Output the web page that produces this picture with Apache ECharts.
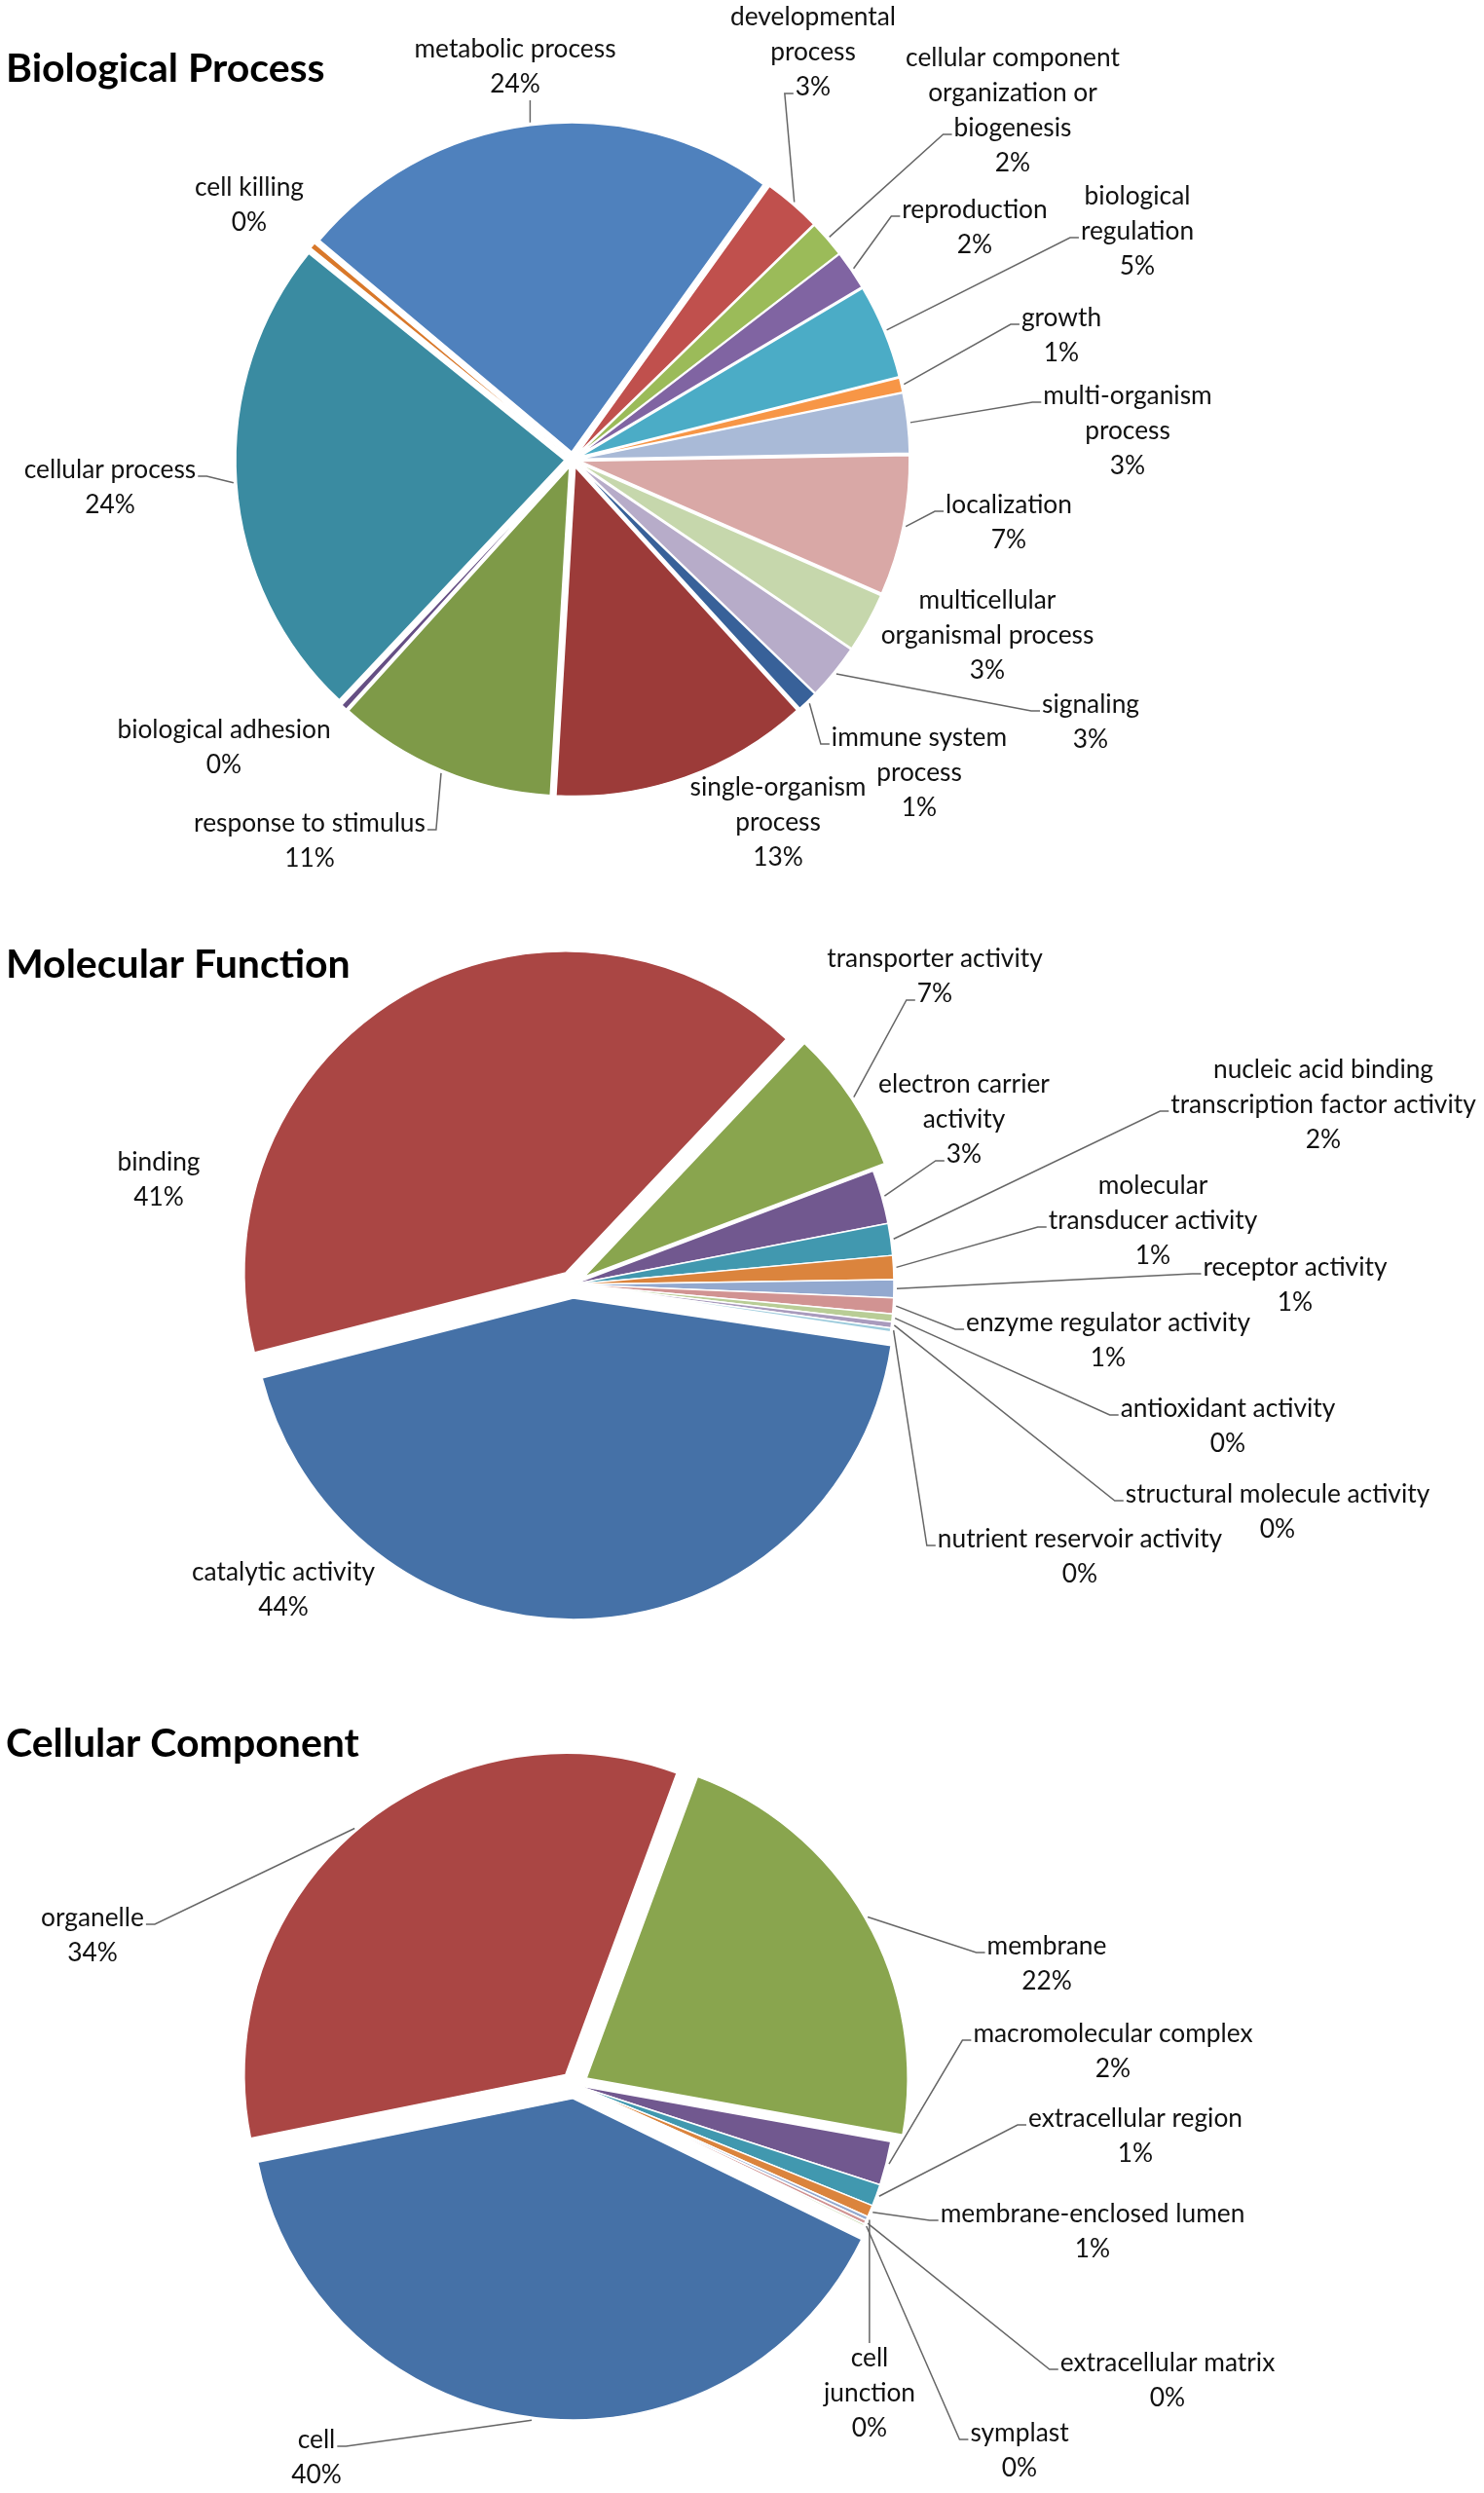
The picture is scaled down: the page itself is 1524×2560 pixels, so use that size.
<!DOCTYPE html>
<html><head><meta charset="utf-8">
<script src="https://cdn.jsdelivr.net/npm/echarts@6/dist/echarts.min.js"></script>
<style>html,body{margin:0;padding:0;background:#fff}#c{width:1524px;height:2560px}</style>
</head><body><div id="c"></div>
<script>
// ---------------- DATA ----------------
const bpCategories = ['metabolic process','developmental process','cellular component organization or biogenesis','reproduction','biological regulation','growth','multi-organism process','localization','multicellular organismal process','signaling','immune system process','single-organism process','response to stimulus','biological adhesion','cellular process','cell killing'];
const bpLabelText = ['metabolic process','developmental\nprocess','cellular component\norganization or\nbiogenesis','reproduction','biological\nregulation','growth','multi-organism\nprocess','localization','multicellular\norganismal process','signaling','immune system\nprocess','single-organism\nprocess','response to stimulus','biological adhesion','cellular process','cell killing'];
const bpValues = [23.6, 2.8, 1.8, 1.9, 4.6, 0.7, 2.9, 6.8, 2.9, 2.7, 1.0, 12.6, 10.7, 0.3, 23.6, 0.3];

const mfCategories = ['catalytic activity','binding','transporter activity','electron carrier activity','nucleic acid binding transcription factor activity','molecular transducer activity','receptor activity','enzyme regulator activity','antioxidant activity','structural molecule activity','nutrient reservoir activity'];
const mfLabelText = ['catalytic activity','binding','transporter activity','electron carrier\nactivity','nucleic acid binding\ntranscription factor activity','molecular\ntransducer activity','receptor activity','enzyme regulator activity','antioxidant activity','structural molecule activity','nutrient reservoir activity'];
const mfValues = [43.6, 41.0, 7.2, 2.7, 1.6, 1.2, 0.9, 0.8, 0.4, 0.3, 0.2];

const ccCategories = ['cell','organelle','membrane','macromolecular complex','extracellular region','membrane-enclosed lumen','cell junction','extracellular matrix','symplast'];
const ccLabelText = ['cell','organelle','membrane','macromolecular complex','extracellular region','membrane-enclosed lumen','cell\njunction','extracellular matrix','symplast'];
const ccValues = [39.6, 33.8, 22.2, 2.2, 1.1, 0.6, 0.2, 0.2, 0.1];

const titles = ['Biological Process', 'Molecular Function', 'Cellular Component'];

// ---------------- STYLE / LAYOUT ----------------
const bpColors = ['#4F81BD','#C0504D','#9BBB59','#8064A2','#4BACC6','#F79646','#A9BAD7','#D9A8A6','#C6D7AC','#B7ACC9','#386199','#9C3B39','#7E9A48','#654F84','#3A8BA1','#D9782A'];
const mfColors = ['#4571A7','#AA4644','#89A54E','#71588F','#4198AF','#DB843D','#93A9CF','#D19392','#B9CD96','#A99BBD','#9CCBDC'];
const ccColors = ['#4571A7','#AA4644','#89A54E','#71588F','#4198AF','#DB843D','#93A9CF','#D19392','#B9CD96'];

// label block centre x, centre y, leader attach side (l/r/b/t/n), attach line index
const bpLabelPos = [[529,69,'b',1],[835,54,'l',2],[1040,114,'l',2],[1001,234,'l',0],[1168,238,'l',1],[1090,345,'l',0],[1158,443,'l',0],[1036,537,'l',0],[1014,653,'n',0],[1120,742,'l',0],[944,794,'l',0],[799,845,'n',0],[318,864,'r',0],[230,768,'n',0],[113,501,'r',0],[256,211,'n',0]];
const mfLabelPos = [[291,1633,'n',0],[163,1212,'n',0],[960,1003,'l',1],[990,1150,'l',2],[1359,1135,'l',1],[1184,1254,'l',1],[1330,1320,'l',0],[1138,1377,'l',0],[1261,1465,'l',0],[1312,1553,'l',0],[1109,1599,'l',0]];
const ccLabelPos = [[325,2524,'r',0],[95,1988,'r',0],[1075,2017,'l',0],[1143,2107,'l',0],[1166,2194,'l',0],[1122,2292,'l',0],[893,2458,'t',0],[1199,2445,'l',0],[1047,2517,'l',0]];

const FONT = 'Lato';
const LABEL_SIZE = 26.3, LINE_H = 36;
const ctx = document.createElement('canvas').getContext('2d');
function textW(s) { ctx.font = LABEL_SIZE + 'px ' + FONT; return ctx.measureText(s).width; }

function makeLayout(pos, o) {
  return function (p) {
    const c = pos[p.dataIndex];
    const out = { x: c[0], y: c[1], align: 'center', verticalAlign: 'middle' };
    const pts = p.labelLinePoints;
    if (!pts || c[2] === 'n') return out;
    const lines = p.text.split('\n');
    const h = lines.length * LINE_H;
    const top = c[1] - h / 2;
    // push the leader start out to the exploded slice edge
    const vx = pts[0][0] - o.center[0], vy = pts[0][1] - o.center[1];
    const len = Math.sqrt(vx * vx + vy * vy) || 1;
    const extra = o.explode(p.dataIndex) ? o.offset : 0;
    const p0 = [o.center[0] + vx * (len + extra) / len, o.center[1] + vy * (len + extra) / len];
    let res;
    if (c[2] === 'l' || c[2] === 'r') {
      const w = textW(lines[c[3]]);
      const yy = top + LINE_H * (c[3] + 0.5) + 6;
      const ex = c[2] === 'l' ? c[0] - w / 2 - 2 : c[0] + w / 2 + 2;
      const sx = c[2] === 'l' ? ex - 9 : ex + 9;
      res = [p0, [sx, yy], [ex, yy]];
    } else if (c[2] === 'b') {
      const yy = top + h - 2;
      res = [p0, [p0[0], yy], [p0[0], yy]];
    } else {
      const yy = top + 2;
      res = [p0, [p0[0], yy], [p0[0], yy]];
    }
    out.labelLinePoints = res;
    return out;
  };
}

// visible exploded pie (no labels)
function pieSlices(names, values, colors, o) {
  return {
    type: 'pie', center: o.center, radius: [0, o.r], startAngle: o.start, clockwise: true,
    selectedMode: 'multiple', selectedOffset: o.offset, avoidLabelOverlap: false,
    animation: false, emphasis: { disabled: true, scale: false }, silent: true,
    itemStyle: { borderColor: '#fff', borderWidth: 1.5 },
    label: { show: false }, labelLine: { show: false },
    select: { itemStyle: { borderColor: '#fff', borderWidth: 1.5 } },
    data: names.map((n, i) => ({
      name: n, value: values[i], selected: o.explode(i),
      itemStyle: { color: colors[i] }
    }))
  };
}

// transparent overlay pie that carries the labels and leader lines
function pieLabels(names, texts, values, pos, o) {
  return {
    type: 'pie', center: o.center, radius: [0, o.r + 3], startAngle: o.start, clockwise: true,
    selectedMode: false, avoidLabelOverlap: false, silent: true, z: 5,
    animation: false, emphasis: { disabled: true, scale: false },
    itemStyle: { color: 'rgba(0,0,0,0)', borderWidth: 0 },
    label: {
      show: true, position: 'outside',
      formatter: p => texts[p.dataIndex] + '\n' + Math.round(p.percent) + '%',
      fontFamily: FONT, fontSize: LABEL_SIZE, lineHeight: LINE_H, color: '#111', align: 'center'
    },
    labelLine: { show: true, length: 10, length2: 10, lineStyle: { color: '#666', width: 1.5 } },
    labelLayout: makeLayout(pos, o),
    data: names.map((n, i) => ({
      name: n, value: values[i],
      labelLine: { show: pos[i][2] !== 'n' }
    }))
  };
}

const bpOpt = { center: [588, 472], r: 338, start: 140, offset: 8, explode: () => true };
const mfOpt = { center: [588, 1319], r: 330, start: -8.5, offset: 14, explode: i => i < 3 };
const ccOpt = { center: [590, 2141], r: 330, start: -26, offset: 14, explode: i => i < 3 };

const chart = echarts.init(document.getElementById('c'), null, { renderer: 'canvas' });
chart.setOption({
  backgroundColor: '#fff',
  animation: false,
  graphic: [
    { type: 'text', left: 6, top: 50, style: { text: titles[0], font: 'bold 41px Lato', fill: '#000' } },
    { type: 'text', left: 6, top: 970, style: { text: titles[1], font: 'bold 41px Lato', fill: '#000' } },
    { type: 'text', left: 6, top: 1770, style: { text: titles[2], font: 'bold 41px Lato', fill: '#000' } }
  ],
  series: [
    pieSlices(bpCategories, bpValues, bpColors, bpOpt),
    pieLabels(bpCategories, bpLabelText, bpValues, bpLabelPos, bpOpt),
    pieSlices(mfCategories, mfValues, mfColors, mfOpt),
    pieLabels(mfCategories, mfLabelText, mfValues, mfLabelPos, mfOpt),
    pieSlices(ccCategories, ccValues, ccColors, ccOpt),
    pieLabels(ccCategories, ccLabelText, ccValues, ccLabelPos, ccOpt)
  ]
});
</script></body></html>
